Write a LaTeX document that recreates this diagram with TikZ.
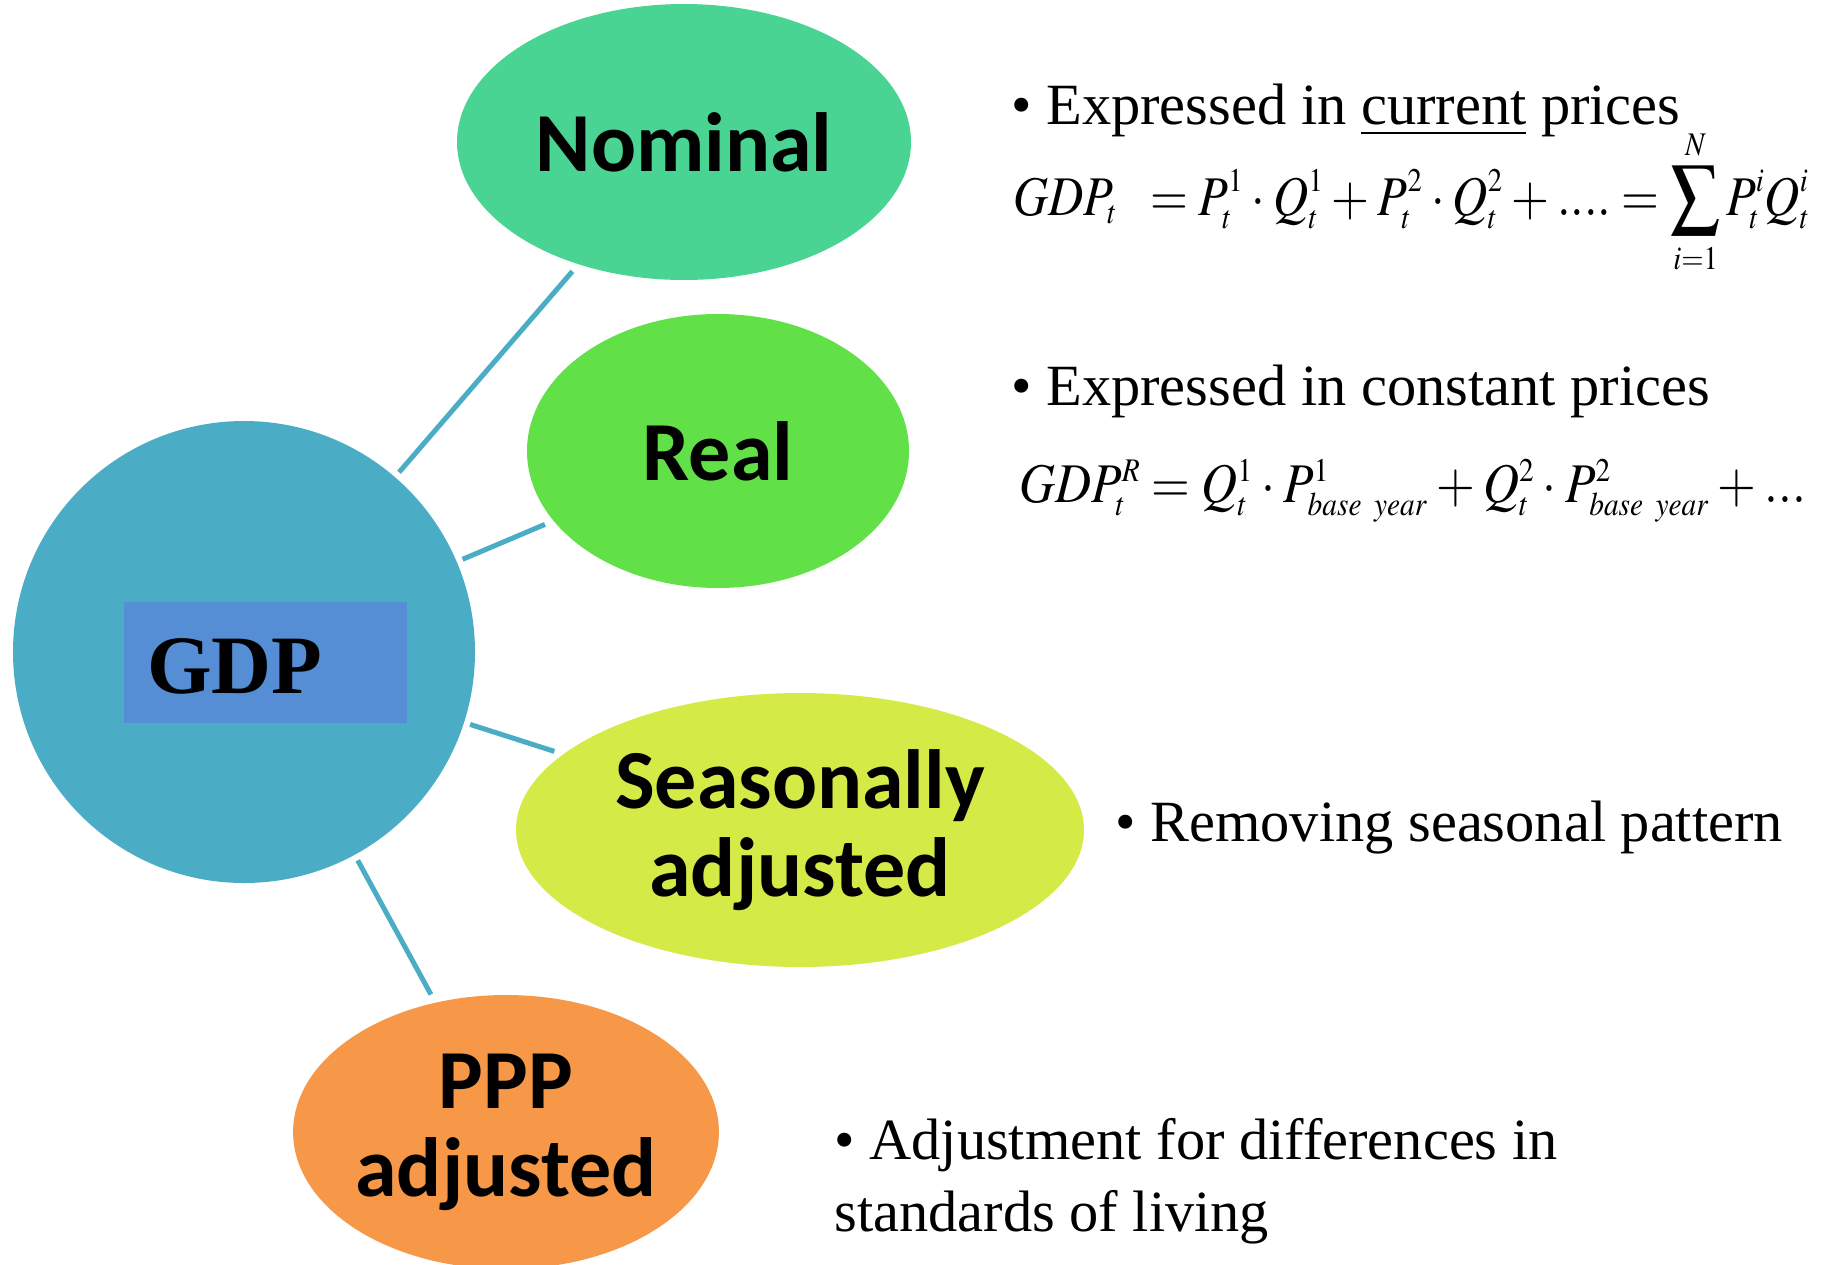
\documentclass[tikz,border=0pt]{standalone}
\usepackage{mathptmx}
\usepackage[no-math]{fontspec}
\setmainfont{Liberation Serif}
\newfontfamily\bubblefont{Carlito}
\usetikzlibrary{shapes.geometric}
\DeclareMathSizes{28}{28}{16.5}{12}

\definecolor{gdpteal}{RGB}{75,172,198}
\definecolor{gdpbox}{RGB}{85,142,213}
\definecolor{nominalgreen}{RGB}{74,212,148}
\definecolor{realgreen}{RGB}{98,224,72}
\definecolor{seasyellow}{RGB}{212,234,70}
\definecolor{ppporange}{RGB}{246,152,72}

\newcommand{\squeezed}[2][0.87]{\scalebox{#1}[1]{\medmuskip=3mu\thickmuskip=4mu$#2$}}

\tikzset{
  bubble/.style={ellipse, inner sep=0pt, align=center, font=\bubblefont\bfseries\fontsize{42}{44}\selectfont},
  spoke/.style={draw=gdpteal, line width=2.5pt, shorten <=3pt, shorten >=4.5pt},
  note/.style={anchor=base west, inner sep=0pt, align=left, font=\fontsize{29.2}{36}\selectfont},
  formula/.style={anchor=base west, inner sep=0pt, font=\fontsize{28}{33}\selectfont}
}

\begin{document}
\begin{tikzpicture}[x=0.5pt,y=0.5pt,yscale=-1]
\useasboundingbox (0,0) rectangle (1831,1264);

%Shape: Circle
\node[circle, fill=gdpteal, minimum size=231pt, inner sep=0pt] (gdp) at (244,652) {};
\node[fill=gdpbox, minimum width=141.5pt, minimum height=60.5pt, inner sep=0pt] (gdprect) at (265.5,662.5) {};
\node[anchor=base west, inner sep=0pt, font=\bfseries\fontsize{41.5}{45}\selectfont] (gdplabel) at (147,693) {GDP};

%Shape: Ellipse
\node[bubble, fill=nominalgreen, minimum width=227pt, minimum height=138pt] (nominal) at (684,142) {Nominal};
\node[bubble, fill=realgreen, minimum width=191pt, minimum height=137pt] (real) at (718,451) {Real};
\node[bubble, fill=seasyellow, minimum width=284pt, minimum height=137pt] (seasonal) at (800,830) {Seasonally\\adjusted};
\node[bubble, fill=ppporange, minimum width=211pt, minimum height=137pt] (ppp) at (506,1132) {PPP\\adjusted};

%Straight Lines
\draw[spoke] (gdp) -- (nominal);
\draw[spoke] (gdp) -- (real);
\draw[spoke] (gdp) -- (seasonal);
\draw[spoke] (gdp) -- (ppp);

%Text
\node[note] (nominalnote) at (1011,124) {• Expressed in \underline{current} prices};
\node[formula] (nominalformula) at (1013,215) {\squeezed{\displaystyle GDP_t\;\;=P_t^1\cdot Q_t^1+P_t^2\cdot Q_t^2+....=\sum_{i=1}^{N}P_t^iQ_t^i}};
\node[note] (realnote) at (1011,405) {• Expressed in constant prices};
\node[formula] (realformula) at (1019,502) {\squeezed[0.89]{GDP_t^R=Q_t^1\cdot P^1_{base\ year}+Q_t^2\cdot P^2_{base\ year}+...}};
\node[note] (seasonalnote) at (1115,841) {• Removing seasonal pattern};
\node[note] (pppnote) at (834,1231) {• Adjustment for differences in\\standards of living};

\end{tikzpicture}
\end{document}
